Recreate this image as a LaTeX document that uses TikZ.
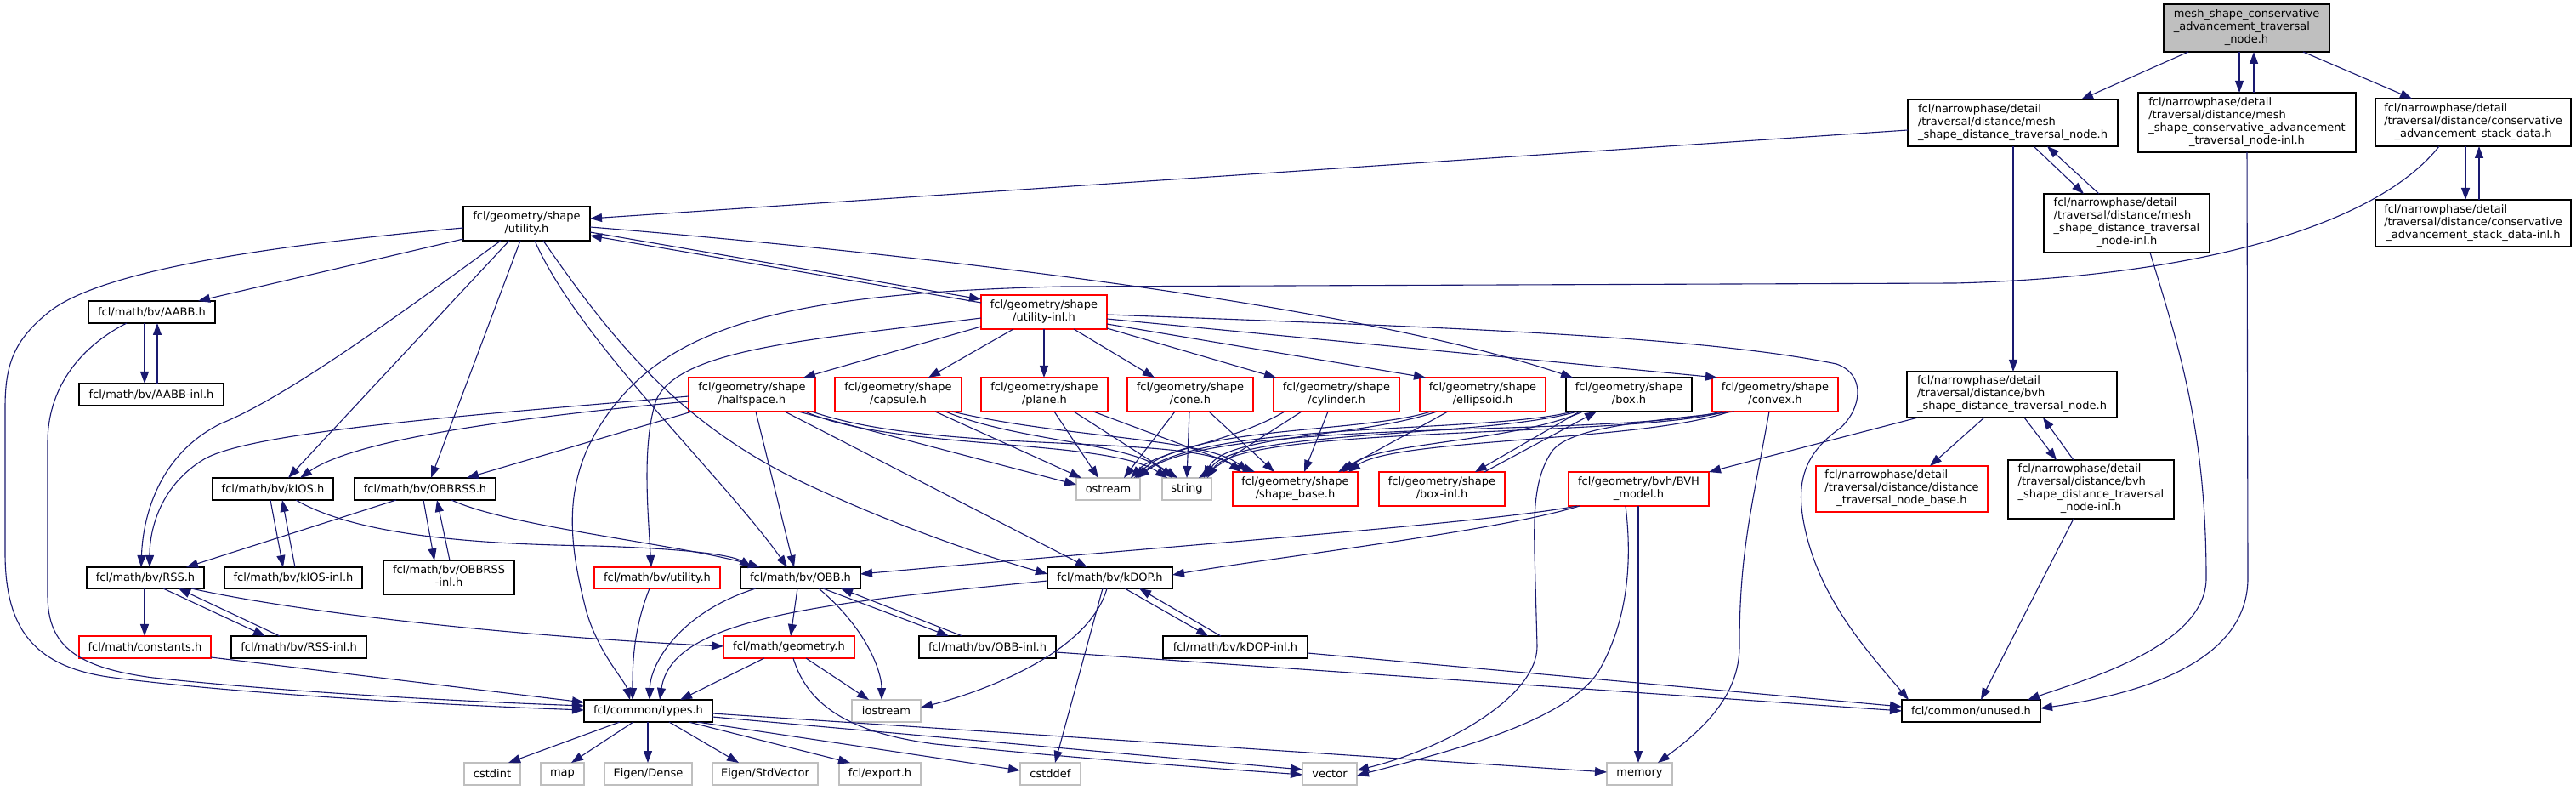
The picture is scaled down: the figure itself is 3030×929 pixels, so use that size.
\documentclass[tikz,border=0pt]{standalone}
\usepackage{fontspec}
\setmainfont{DejaVu Sans}
\usetikzlibrary{arrows.meta}
\definecolor{eb}{HTML}{191970}
\definecolor{nred}{HTML}{FF0000}
\definecolor{ngray}{HTML}{BFBFBF}
\newcommand\mknode[7]{\node[#6, minimum width={(#4-#2)*0.5pt}, minimum height={(#5-#3)*0.5pt}] (#1) at ({(#2+#4)/2},{(#3+#5)/2}) {#7};}
\newcommand\mlines[2]{\begin{tabular}{@{}l@{}}#1\\\multicolumn{1}{@{}c@{}}{#2}\end{tabular}}
\tikzset{
  nbase/.style={rectangle, inner sep=0pt, outer sep=0pt, line width=0.65pt, fill=white, font=\fontsize{6.5}{7.5}\selectfont},
  nb/.style={nbase, draw=black},
  nr/.style={nbase, draw=nred},
  ng/.style={nbase, draw=ngray},
  ntop/.style={nbase, draw=black, fill=ngray},
  e/.style={draw=eb, line width=0.55pt, -{Triangle[length=7pt,width=5pt]}, fill=none}
}
\begin{document}
\begin{tikzpicture}[x=0.5pt,y=-0.5pt]
\fill[white] (0,0) rectangle (3030,929);
\useasboundingbox (0,0) rectangle (3030,929);
% nodes
\mknode{top}{2545}{5}{2740}{61}{ntop}{\mlines{mesh\_shape\_conservative\\\_advancement\_traversal}{\_node.h}}
\mknode{A}{2244}{117}{2491}{172}{nb}{\mlines{fcl/narrowphase/detail\\/traversal/distance/mesh}{\_shape\_distance\_traversal\_node.h}}
\mknode{B}{2515}{109}{2771}{179}{nb}{\mlines{fcl/narrowphase/detail\\/traversal/distance/mesh\\\_shape\_conservative\_advancement}{\_traversal\_node-inl.h}}
\mknode{C}{2794}{116}{3024}{172}{nb}{\mlines{fcl/narrowphase/detail\\/traversal/distance/conservative}{\_advancement\_stack\_data.h}}
\mknode{D}{2404}{228}{2599}{297}{nb}{\mlines{fcl/narrowphase/detail\\/traversal/distance/mesh\\\_shape\_distance\_traversal}{\_node-inl.h}}
\mknode{E}{2794}{235}{3024}{290}{nb}{\mlines{fcl/narrowphase/detail\\/traversal/distance/conservative}{\_advancement\_stack\_data-inl.h}}
\mknode{utilh}{545}{243}{694}{283}{nb}{\mlines{fcl/geometry/shape}{/utility.h}}
\mknode{utilinl}{1154}{347}{1302}{387}{nr}{\mlines{fcl/geometry/shape}{/utility-inl.h}}
\mknode{aabb}{104}{354}{253}{380}{nb}{fcl/math/bv/AABB.h}
\mknode{aabbinl}{93}{451}{263}{477}{nb}{fcl/math/bv/AABB-inl.h}
\mknode{halfspace}{810}{444}{959}{484}{nr}{\mlines{fcl/geometry/shape}{/halfspace.h}}
\mknode{capsule}{982}{444}{1131}{484}{nr}{\mlines{fcl/geometry/shape}{/capsule.h}}
\mknode{plane}{1154}{444}{1303}{484}{nr}{\mlines{fcl/geometry/shape}{/plane.h}}
\mknode{cone}{1326}{444}{1474}{484}{nr}{\mlines{fcl/geometry/shape}{/cone.h}}
\mknode{cylinder}{1498}{444}{1646}{484}{nr}{\mlines{fcl/geometry/shape}{/cylinder.h}}
\mknode{ellipsoid}{1670}{444}{1818}{484}{nr}{\mlines{fcl/geometry/shape}{/ellipsoid.h}}
\mknode{box}{1842}{444}{1990}{484}{nb}{\mlines{fcl/geometry/shape}{/box.h}}
\mknode{convex}{2014}{444}{2162}{484}{nr}{\mlines{fcl/geometry/shape}{/convex.h}}
\mknode{bvhsdtn}{2243}{437}{2490}{491}{nb}{\mlines{fcl/narrowphase/detail\\/traversal/distance/bvh}{\_shape\_distance\_traversal\_node.h}}
\mknode{kios}{250}{562}{392}{588}{nb}{fcl/math/bv/kIOS.h}
\mknode{obbrss}{417}{562}{583}{588}{nb}{fcl/math/bv/OBBRSS.h}
\mknode{ostream}{1266}{562}{1341}{588}{ng}{ostream}
\mknode{string}{1367}{562}{1425}{588}{ng}{string}
\mknode{shapebase}{1450}{555}{1597}{595}{nr}{\mlines{fcl/geometry/shape}{/shape\_base.h}}
\mknode{boxinl}{1622}{555}{1770}{595}{nr}{\mlines{fcl/geometry/shape}{/box-inl.h}}
\mknode{bvhmodel}{1845}{555}{2010}{595}{nr}{\mlines{fcl/geometry/bvh/BVH}{\_model.h}}
\mknode{dtnb}{2136}{548}{2338}{602}{nr}{\mlines{fcl/narrowphase/detail\\/traversal/distance/distance}{\_traversal\_node\_base.h}}
\mknode{bvhsdtninl}{2362}{541}{2557}{610}{nb}{\mlines{fcl/narrowphase/detail\\/traversal/distance/bvh\\\_shape\_distance\_traversal}{\_node-inl.h}}
\mknode{rss}{102}{667}{240}{692}{nb}{fcl/math/bv/RSS.h}
\mknode{kiosinl}{264}{667}{426}{692}{nb}{fcl/math/bv/kIOS-inl.h}
\mknode{obbrssinl}{451}{659}{605}{699}{nb}{\mlines{fcl/math/bv/OBBRSS}{-inl.h}}
\mknode{bvutil}{699}{667}{847}{692}{nr}{fcl/math/bv/utility.h}
\mknode{obb}{871}{667}{1012}{692}{nb}{fcl/math/bv/OBB.h}
\mknode{kdop}{1232}{667}{1379}{692}{nb}{fcl/math/bv/kDOP.h}
\mknode{constants}{93}{748}{248}{774}{nr}{fcl/math/constants.h}
\mknode{rssinl}{272}{748}{431}{774}{nb}{fcl/math/bv/RSS-inl.h}
\mknode{geometry}{851}{748}{1005}{774}{nr}{fcl/math/geometry.h}
\mknode{obbinl}{1081}{748}{1242}{774}{nb}{fcl/math/bv/OBB-inl.h}
\mknode{kdopinl}{1368}{748}{1538}{774}{nb}{fcl/math/bv/kDOP-inl.h}
\mknode{types}{687}{823}{838}{849}{nb}{fcl/common/types.h}
\mknode{iostream}{1002}{823}{1083}{849}{ng}{iostream}
\mknode{unused}{2237}{823}{2400}{849}{nb}{fcl/common/unused.h}
\mknode{cstdint}{546}{897}{612}{923}{ng}{cstdint}
\mknode{map}{636}{897}{687}{923}{ng}{map}
\mknode{eigendense}{711}{897}{814}{923}{ng}{Eigen/Dense}
\mknode{eigenstd}{838}{897}{962}{923}{ng}{Eigen/StdVector}
\mknode{export}{987}{897}{1083}{923}{ng}{fcl/export.h}
\mknode{cstddef}{1200}{897}{1271}{923}{ng}{cstddef}
\mknode{vector}{1532}{897}{1596}{923}{ng}{vector}
\mknode{memory}{1890}{897}{1967}{923}{ng}{memory}
% edges: top
\draw[e] (top.south -| 2574,0) -- (A.north -| 2448,0);
\draw[e] (top.south -| 2634,0) -- (B.north -| 2634,0);
\draw[e] (B.north -| 2651,0) -- (top.south -| 2651,0);
\draw[e] (top.south -| 2709,0) -- (C.north -| 2837,0);
% A
\draw[e] (A.west |- 0,153) -- (utilh.east |- 0,257);
\draw[e] (A.south -| 2392,0) -- (D.north -| 2451,0);
\draw[e] (D.north -| 2469,0) -- (A.south -| 2408,0);
\draw[e] (A.south -| 2368,0) -- (bvhsdtn.north -| 2368,0);
% B, D
\draw[e] (B.south -| 2643,0) -- (2644,680) .. controls (2644,760) and (2560,810) .. (unused.east |- 0,833);
\draw[e] (D.south -| 2529,0) .. controls (2560,400) and (2595,500) .. (2595,680) .. controls (2595,760) and (2450,800) .. (unused.north -| 2385,0);
% C
\draw[e] (C.south -| 2900,0) -- (E.north -| 2900,0);
\draw[e] (E.north -| 2916,0) -- (C.south -| 2916,0);
\draw[e] (C.south -| 2869,0) .. controls (2800,260) and (2600,325) .. (2300,333) -- (1250,337) .. controls (900,345) and (770,390) .. (700,510) .. controls (660,580) and (672,650) .. (690,720) .. controls (705,770) and (735,800) .. (types.north -| 741,0);
% utility.h
\draw[e] (utilh.east |- 0,273) -- (utilinl.west |- 0,352);
\draw[e] (utilinl.west |- 0,356) -- (utilh.east |- 0,277);
\draw[e] (utilh.east |- 0,267) .. controls (1100,300) and (1600,360) .. (box.north -| 1850,0);
\draw[e] (utilh.west |- 0,281) -- (aabb.north -| 233,0);
\draw[e] (utilh.west |- 0,268) .. controls (300,290) and (120,320) .. (60,365) .. controls (15,400) and (6,430) .. (6,480) -- (6,650) .. controls (6,740) and (40,785) .. (134,797) .. controls (300,818) and (550,830) .. (types.west |- 0,835);
\draw[e] (aabb.south -| 149,0) .. controls (90,410) and (56,460) .. (56,520) -- (56,700) .. controls (56,760) and (90,785) .. (180,797) .. controls (350,815) and (550,825) .. (types.west |- 0,830);
\draw[e] (aabb.south -| 170,0) -- (aabbinl.north -| 170,0);
\draw[e] (aabbinl.north -| 185,0) -- (aabb.south -| 185,0);
\draw[e] (utilh.south -| 589,0) .. controls (450,385) and (330,470) .. (260,498) .. controls (185,535) and (168,610) .. (rss.north -| 166,0);
\draw[e] (halfspace.west |- 0,466) .. controls (600,485) and (300,505) .. (240,540) .. controls (190,570) and (176,620) .. (rss.north -| 176,0);
\draw[e] (utilh.south -| 599,0) -- (kios.north -| 339,0);
\draw[e] (halfspace.west |- 0,472) .. controls (620,490) and (420,515) .. (kios.north -| 353,0);
\draw[e] (utilh.south -| 612,0) -- (obbrss.north -| 507,0);
\draw[e] (halfspace.south -| 814,0) -- (obbrss.north -| 549,0);
\draw[e] (obbrss.south -| 466,0) -- (rss.north -| 219,0);
\draw[e] (obbrss.south -| 498,0) -- (obbrssinl.north -| 511,0);
\draw[e] (obbrssinl.north -| 529,0) -- (obbrss.south -| 514,0);
\draw[e] (obbrss.south -| 531,0) .. controls (600,620) and (800,640) .. (obb.north -| 894,0);
\draw[e] (kios.south -| 348,0) .. controls (420,630) and (560,640) .. (700,642) .. controls (800,645) and (860,652) .. (obb.north -| 884,0);
\draw[e] (kios.south -| 318,0) -- (kiosinl.north -| 333,0);
\draw[e] (kiosinl.north -| 347,0) -- (kios.south -| 332,0);
\draw[e] (rss.south -| 170,0) -- (constants.north -| 170,0);
\draw[e] (rss.south -| 192,0) -- (rssinl.north -| 312,0);
\draw[e] (rssinl.north -| 329,0) -- (rss.south -| 210,0);
\draw[e] (rss.south -| 225,0) .. controls (350,720) and (600,748) .. (geometry.west |- 0,760);
\draw[e] (constants.east |- 0,773) -- (types.west |- 0,826);
\draw[e] (utilh.south -| 629,0) .. controls (680,400) and (850,560) .. (obb.north -| 926,0);
\draw[e] (utilh.south -| 639,0) .. controls (720,400) and (800,500) .. (950,570) .. controls (1080,630) and (1180,660) .. (kdop.west |- 0,675);
% halfspace
\draw[e] (halfspace.south -| 889,0) -- (obb.north -| 934,0);
\draw[e] (halfspace.south -| 923,0) -- (kdop.north -| 1279,0);
\draw[e] (halfspace.south -| 939,0) -- (ostream.west |- 0,570);
\draw[e] (halfspace.south -| 947,0) .. controls (1050,530) and (1300,515) .. (string.north -| 1373,0);
\draw[e] (halfspace.south -| 955,0) .. controls (1100,535) and (1400,510) .. (shapebase.north -| 1460,0);
% capsule
\draw[e] (capsule.south -| 1100,0) -- (ostream.north -| 1272,0);
\draw[e] (capsule.south -| 1112,0) .. controls (1200,520) and (1330,520) .. (string.north -| 1379,0);
\draw[e] (capsule.south -| 1120,0) .. controls (1250,515) and (1420,515) .. (shapebase.north -| 1468,0);
% plane
\draw[e] (plane.south -| 1240,0) -- (ostream.north -| 1292,0);
\draw[e] (plane.south -| 1263,0) -- (string.north -| 1385,0);
\draw[e] (plane.south -| 1286,0) -- (shapebase.north -| 1476,0);
% cone
\draw[e] (cone.south -| 1382,0) -- (ostream.north -| 1322,0);
\draw[e] (cone.south -| 1399,0) -- (string.north -| 1396,0);
\draw[e] (cone.south -| 1422,0) -- (shapebase.north -| 1499,0);
% cylinder
\draw[e] (cylinder.south -| 1511,0) .. controls (1450,520) and (1360,530) .. (ostream.north -| 1330,0);
\draw[e] (cylinder.south -| 1531,0) -- (string.north -| 1410,0);
\draw[e] (cylinder.south -| 1562,0) -- (shapebase.north -| 1534,0);
% ellipsoid
\draw[e] (ellipsoid.south -| 1683,0) .. controls (1600,510) and (1400,500) .. (ostream.north -| 1334,0);
\draw[e] (ellipsoid.south -| 1690,0) .. controls (1600,515) and (1440,510) .. (string.north -| 1416,0);
\draw[e] (ellipsoid.south -| 1703,0) -- (shapebase.north -| 1574,0);
% box
\draw[e] (box.south -| 1850,0) .. controls (1750,510) and (1420,495) .. (ostream.north -| 1336,0);
\draw[e] (box.south -| 1855,0) .. controls (1750,515) and (1450,505) .. (string.north -| 1418,0);
\draw[e] (box.south -| 1862,0) .. controls (1780,520) and (1620,520) .. (shapebase.north -| 1580,0);
\draw[e] (box.south -| 1858,0) -- (boxinl.north -| 1735,0);
\draw[e] (boxinl.north -| 1746,0) -- (box.south -| 1878,0);
% convex
\draw[e] (convex.south -| 2025,0) .. controls (1900,515) and (1430,490) .. (ostream.north -| 1338,0);
\draw[e] (convex.south -| 2030,0) .. controls (1920,515) and (1460,500) .. (string.north -| 1420,0);
\draw[e] (convex.south -| 2035,0) .. controls (1930,520) and (1640,515) .. (shapebase.north -| 1586,0);
\draw[e] (convex.south -| 2040,0) .. controls (1950,495) and (1850,500) .. (1826,530) .. controls (1805,560) and (1804,600) .. (1805,650) -- (1808,760) .. controls (1808,820) and (1700,880) .. (vector.east |- 0,906);
\draw[e] (convex.south -| 2081,0) .. controls (2060,600) and (2046,650) .. (2046,760) .. controls (2046,820) and (2000,860) .. (memory.north -| 1950,0);
% utility-inl
\draw[e] (utilinl.west |- 0,384) -- (halfspace.north -| 945,0);
\draw[e] (utilinl.south -| 1192,0) -- (capsule.north -| 1092,0);
\draw[e] (utilinl.south -| 1228,0) -- (plane.north -| 1228,0);
\draw[e] (utilinl.south -| 1263,0) -- (cone.north -| 1358,0);
\draw[e] (utilinl.east |- 0,386) -- (cylinder.north -| 1501,0);
\draw[e] (utilinl.east |- 0,381) -- (ellipsoid.north -| 1677,0);
\draw[e] (utilinl.east |- 0,375) -- (convex.north -| 2020,0);
\draw[e] (utilinl.east |- 0,370) .. controls (1700,385) and (2000,395) .. (2160,428) .. controls (2195,440) and (2190,480) .. (2165,503) .. controls (2120,535) and (2110,570) .. (2125,630) .. controls (2145,710) and (2200,770) .. (unused.north -| 2245,0);
\draw[e] (utilinl.west |- 0,374) .. controls (950,400) and (800,410) .. (772,470) .. controls (755,520) and (762,600) .. (bvutil.north -| 766,0);
% lower
\draw[e] (bvutil.south -| 764,0) .. controls (745,740) and (744,780) .. (types.north -| 744,0);
\draw[e] (obb.south -| 889,0) .. controls (800,720) and (765,780) .. (types.north -| 764,0);
\draw[e] (obb.south -| 938,0) -- (geometry.north -| 930,0);
\draw[e] (obb.south -| 963,0) .. controls (1020,740) and (1037,790) .. (iostream.north -| 1037,0);
\draw[e] (obb.south -| 968,0) -- (obbinl.north -| 1116,0);
\draw[e] (obbinl.north -| 1132,0) -- (obb.south -| 989,0);
\draw[e] (geometry.south -| 899,0) -- (types.north -| 800,0);
\draw[e] (geometry.south -| 948,0) -- (iostream.north -| 1022,0);
\draw[e] (geometry.south -| 933,0) .. controls (950,830) and (1000,862) .. (1100,875) .. controls (1300,895) and (1450,905) .. (vector.west |- 0,911);
\draw[e] (types.south -| 729,0) -- (cstdint.north -| 598,0);
\draw[e] (types.south -| 745,0) -- (map.north -| 672,0);
\draw[e] (types.south -| 762,0) -- (eigendense.north -| 762,0);
\draw[e] (types.south -| 787,0) -- (eigenstd.north -| 869,0);
\draw[e] (types.south -| 810,0) -- (export.north -| 1000,0);
\draw[e] (types.south -| 820,0) -- (cstddef.west |- 0,906);
\draw[e] (types.east |- 0,843) -- (vector.west |- 0,905);
\draw[e] (types.east |- 0,839) -- (memory.west |- 0,908);
% kDOP
\draw[e] (kdop.west |- 0,683) .. controls (950,710) and (790,730) .. (types.north -| 776,0);
\draw[e] (kdop.south -| 1302,0) .. controls (1280,770) and (1150,815) .. (iostream.east |- 0,832);
\draw[e] (kdop.south -| 1297,0) -- (cstddef.north -| 1241,0);
\draw[e] (kdop.south -| 1323,0) -- (kdopinl.north -| 1421,0);
\draw[e] (kdopinl.north -| 1436,0) -- (kdop.south -| 1340,0);
\draw[e] (kdopinl.east |- 0,768) -- (unused.west |- 0,831);
\draw[e] (obbinl.east |- 0,767) -- (unused.west |- 0,836);
% BVH
\draw[e] (bvhmodel.south -| 1855,0) .. controls (1750,615) and (1400,640) .. (obb.east |- 0,675);
\draw[e] (bvhmodel.south -| 1858,0) .. controls (1760,625) and (1500,655) .. (kdop.east |- 0,676);
\draw[e] (bvhmodel.south -| 1927,0) -- (memory.north -| 1927,0);
\draw[e] (bvhmodel.south -| 1912,0) .. controls (1920,660) and (1915,730) .. (1880,790) .. controls (1840,850) and (1700,885) .. (vector.east |- 0,912);
\draw[e] (bvhsdtn.south -| 2256,0) -- (bvhmodel.north east);
\draw[e] (bvhsdtn.south -| 2334,0) -- (dtnb.north -| 2270,0);
\draw[e] (bvhsdtn.south -| 2381,0) -- (bvhsdtninl.north -| 2419,0);
\draw[e] (bvhsdtninl.north -| 2439,0) -- (bvhsdtn.south -| 2403,0);
\draw[e] (bvhsdtninl.south -| 2439,0) -- (unused.north -| 2330,0);
\end{tikzpicture}
\end{document}
